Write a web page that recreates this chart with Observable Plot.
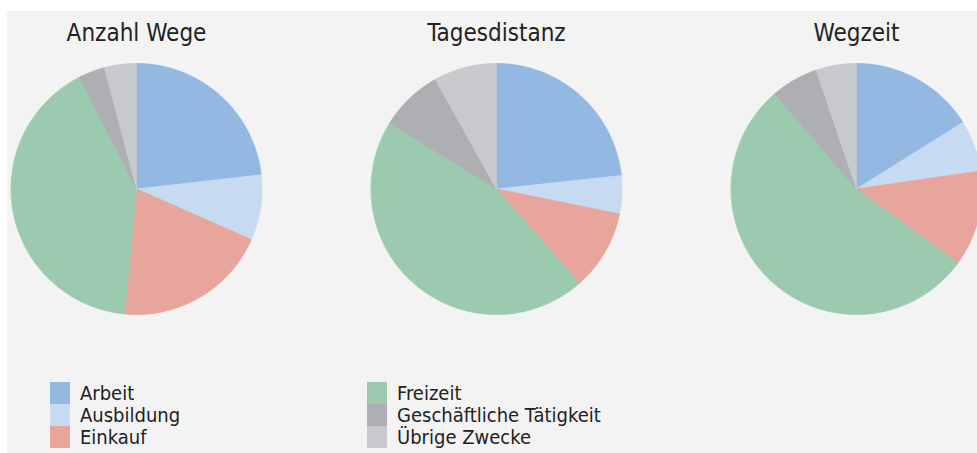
<!DOCTYPE html>
<html>
<head>
<meta charset="utf-8">
<script src="https://cdn.jsdelivr.net/npm/d3@7"></script>
<script src="https://cdn.jsdelivr.net/npm/@observablehq/plot@0.6"></script>
<style>
  html, body { margin: 0; padding: 0; background: #ffffff; width: 977px; height: 453px; overflow: hidden; }
  #bg { position: absolute; left: 7px; top: 11px; width: 970px; height: 442px; background: #f3f3f4; }
  #pies { position: absolute; left: -44px; top: 0px; width: 1080px; }
  #pies svg { max-width: none !important; display: block; }
  #legend { position: absolute; left: 50px; top: 382px; width: 634px; }
  #legend > div { column-gap: 0 !important; margin: 0 !important; width: 634px; line-height: 22px; }
  .lg-swatch { padding-bottom: 0 !important; margin: 0 !important; height: 22px; }
  .lg-swatch > svg { margin-right: 10px !important; }
</style>
</head>
<body>
<div id="bg"></div>
<div id="pies"></div>
<div id="legend"></div>
<script>
// ---- data ----
const charts = ["Anzahl Wege", "Tagesdistanz", "Wegzeit"];
const categories = ["Arbeit", "Ausbildung", "Einkauf", "Freizeit", "Geschäftliche Tätigkeit", "Übrige Zwecke"];
const anzahlWege   = [23.2, 8.4, 19.9, 41.0, 3.4, 4.1];
const tagesdistanz = [23.3, 4.9, 10.3, 45.3, 8.1, 8.1];
const wegzeit      = [16.1, 6.6, 12.3, 53.7, 6.1, 5.2];
const colors = ["#93b9e3", "#c6daf2", "#e7a59c", "#9ccaae", "#aeafb2", "#c8c9cc"];

const seriesByChart = [anzahlWege, tagesdistanz, wegzeit];

// build slice outlines (unit circle) from the pie layout of each series
const rows = [];
const pie = d3.pie().sort(null).value(d => d);
charts.forEach((chart, ci) => {
  pie(seriesByChart[ci]).forEach((arc, i) => {
    const key = chart + "|" + categories[i];
    const base = {chart, category: categories[i], key};
    rows.push({...base, x: 0, y: 0});
    const n = Math.max(2, Math.ceil((arc.endAngle - arc.startAngle) / (Math.PI / 180)));
    for (let k = 0; k <= n; ++k) {
      const a = arc.startAngle + (arc.endAngle - arc.startAngle) * k / n;
      rows.push({...base, x: Math.sin(a), y: Math.cos(a)});
    }
    rows.push({...base, x: 0, y: 0});
  });
});

const R = 125.5;
const facetW = 360;
const half = facetW / 2 / R;
const pad = 3 / R;
const font = "'DejaVu Sans Condensed', 'DejaVu Sans', sans-serif";

const chart = Plot.plot({
  width: facetW * charts.length,
  height: 63 + 2 * R + 3,
  marginTop: 63,
  marginBottom: 0,
  marginLeft: 0,
  marginRight: 0,
  style: {background: "transparent", fontFamily: font, fontStretch: "condensed", fontSize: "24px", color: "#222", maxWidth: "none"},
  facet: {data: rows, x: "chart"},
  fx: {domain: charts, padding: 0, axis: "top", tickSize: 0, tickPadding: 23, label: null},
  x: {domain: [-half, half], axis: null},
  y: {domain: [-1 - pad, 1], axis: null},
  color: {domain: categories, range: colors},
  marks: [
    Plot.line(rows, {x: "x", y: "y", z: "key", fill: "category", stroke: "category", strokeWidth: 0.8, curve: "linear"})
  ]
});
document.getElementById("pies").appendChild(chart);

const legend = Plot.legend({
  color: {type: "categorical", domain: categories, range: colors},
  columns: 2,
  swatchWidth: 20,
  swatchHeight: 22,
  className: "lg",
  style: {fontFamily: font, fontStretch: "condensed", fontSize: "20px", color: "#222", columnGap: "0px", margin: "0px", lineHeight: "22px"}
});
document.getElementById("legend").appendChild(legend);
</script>
</body>
</html>
